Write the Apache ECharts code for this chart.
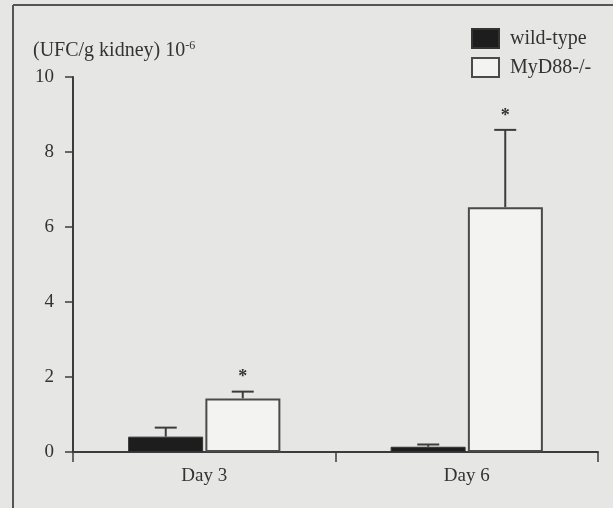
<!doctype html>
<html>
<head>
<meta charset="UTF-8">
<title>UFC/g kidney</title>
<script src="https://cdn.jsdelivr.net/npm/echarts@6/dist/echarts.min.js"></script>
<style>
  html, body { margin: 0; padding: 0; background: #e6e6e5; }
  #main { width: 613px; height: 508px; }
</style>
</head>
<body>
<div id="main"></div>
<script>
// values (x 10^6 UFC per g kidney)
var categories = ['Day 3', 'Day 6'];
var wildType = [0.41, 0.14];
var wildTypeErr = [0.24, 0.06];
var myd88 = [1.43, 6.53];
var myd88Err = [0.18, 2.06];
var myd88Sig = ['*', '*'];
var yTicks = [0, 2, 4, 6, 8, 10];

var FONT = '"Liberation Serif", "Times New Roman", serif';
var INK = '#3c3c3c';
var BAR_W = 75;
var GAP = 2;

var chart = echarts.init(document.getElementById('main'));

// error bars (and stars) drawn on top of the bars
function errSeries(name, vals, errs, sig, side) {
  var data = vals.map(function (v, i) { return [i, v, v + errs[i]]; });
  return {
    name: name + ' err',
    type: 'custom',
    silent: true,
    z: 5,
    data: data,
    encode: { x: 0, y: [1, 2] },
    renderItem: function (params, api) {
      var i = api.value(0);
      var lo = api.coord([i, api.value(1)]);
      var hi = api.coord([i, api.value(2)]);
      var x = lo[0] + side * (BAR_W + GAP) / 2;
      var st = { stroke: INK, lineWidth: 2 };
      var kids = [
        { type: 'line', shape: { x1: x, y1: lo[1], x2: x, y2: hi[1] }, style: st },
        { type: 'line', shape: { x1: x - 11, y1: hi[1], x2: x + 11, y2: hi[1] }, style: st }
      ];
      if (sig && sig[params.dataIndex]) {
        kids.push({
          type: 'text',
          style: {
            text: sig[params.dataIndex], x: x, y: hi[1] - 14,
            align: 'center', verticalAlign: 'middle',
            font: 'bold 18px ' + FONT, fill: '#333'
          }
        });
      }
      return { type: 'group', children: kids };
    }
  };
}

var option = {
  backgroundColor: '#e6e6e5',
  animation: false,
  grid: { left: 73, right: 15, top: 77, bottom: 56, containLabel: false },
  title: {
    text: '(UFC/g kidney) 10{sup|-6}',
    left: 33,
    top: 40,
    padding: 0,
    textStyle: {
      fontFamily: FONT, fontSize: 20, fontWeight: 'normal', color: '#333',
      lineHeight: 22,
      rich: { sup: { fontFamily: FONT, fontSize: 12, color: '#333', verticalAlign: 'top', lineHeight: 22 } }
    }
  },
  legend: {
    orient: 'vertical',
    left: 471,
    top: 28,
    padding: 0,
    itemWidth: 27,
    itemHeight: 19,
    itemGap: 8,
    icon: 'rect',
    data: ['wild-type', 'MyD88-/-'],
    textStyle: { fontFamily: FONT, fontSize: 20, color: '#333', padding: [0, 0, 0, 6] }
  },
  xAxis: {
    type: 'category',
    data: categories,
    boundaryGap: true,
    axisLine: { lineStyle: { color: INK, width: 2 } },
    axisTick: { show: true, length: 10, alignWithLabel: false, lineStyle: { color: INK, width: 1.5 } },
    axisLabel: { fontFamily: FONT, fontSize: 19, color: '#333', margin: 15 },
    splitLine: { show: false }
  },
  yAxis: {
    type: 'value',
    min: 0,
    max: 10,
    interval: 2,
    axisLine: { show: true, lineStyle: { color: INK, width: 2 } },
    axisTick: { show: true, length: 8, lineStyle: { color: INK, width: 1.5 } },
    axisLabel: {
      fontFamily: FONT, fontSize: 19, color: '#333', margin: 19,
      formatter: function (v) { return yTicks.indexOf(v) >= 0 ? String(v) : ''; }
    },
    splitLine: { show: false }
  },
  graphic: [
    // scan frame
    { type: 'line', shape: { x1: 13, y1: 5, x2: 13, y2: 508 }, style: { stroke: '#555', lineWidth: 2 } },
    { type: 'line', shape: { x1: 13, y1: 5, x2: 613, y2: 5 }, style: { stroke: '#555', lineWidth: 2 } }
  ],
  series: [
    {
      name: 'wild-type',
      type: 'bar',
      data: wildType,
      barWidth: BAR_W,
      barGap: '3%',
      itemStyle: { color: '#1d1d1d', borderColor: '#333', borderWidth: 1 }
    },
    {
      name: 'MyD88-/-',
      type: 'bar',
      data: myd88,
      barWidth: BAR_W,
      itemStyle: { color: '#f3f3f2', borderColor: '#4a4a4a', borderWidth: 2 }
    },
    errSeries('wild-type', wildType, wildTypeErr, null, -1),
    errSeries('MyD88-/-', myd88, myd88Err, myd88Sig, 1)
  ]
};

chart.setOption(option);
</script>
</body>
</html>
